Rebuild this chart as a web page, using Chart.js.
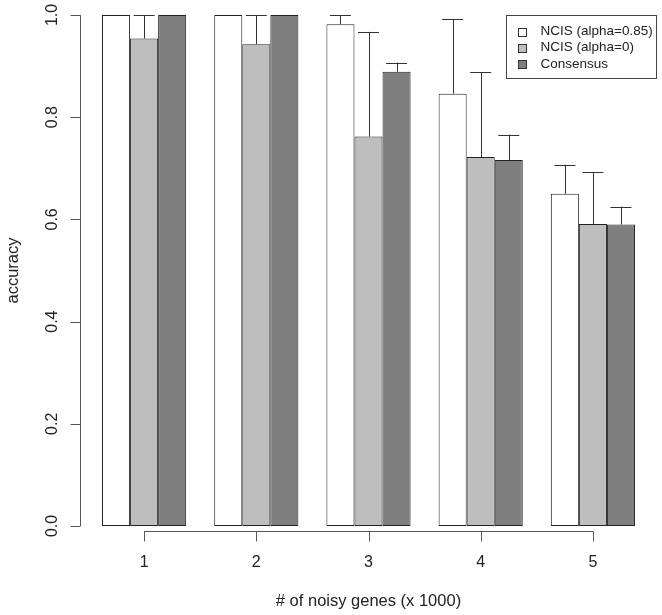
<!DOCTYPE html>
<html>
<head>
<meta charset="utf-8">
<script src="https://cdn.jsdelivr.net/npm/chart.js@4"></script>
<style>
  html, body { margin: 0; padding: 0; background: #fff; }
  #wrap { width: 662px; height: 615px; }
</style>
</head>
<body>
<div id="wrap"><canvas id="accChart" width="662" height="615"></canvas></div>
<script>
const groups = ["1", "2", "3", "4", "5"];
const seriesNames = ["NCIS (alpha=0.85)", "NCIS (alpha=0)", "Consensus"];
const ncis085 = [1.0, 1.0, 0.982, 0.846, 0.650];
const ncis0 = [0.954, 0.943, 0.762, 0.722, 0.591];
const consensus = [1.0, 1.0, 0.889, 0.716, 0.590];
// upper end of each error bar
const ncis085Upper = [1.0, 1.0, 1.0, 0.992, 0.707];
const ncis0Upper = [1.0, 1.0, 0.967, 0.888, 0.693];
const consensusUpper = [1.0, 1.0, 0.907, 0.766, 0.625];
const yTicks = [0, 0.2, 0.4, 0.6, 0.8, 1.0];
const yTickLabels = ["0.0", "0.2", "0.4", "0.6", "0.8", "1.0"];
const fills = ["#ffffff", "#bebebe", "#7f7f7f"];

const FONT = "'Liberation Sans', Arial, Helvetica, sans-serif";
const uppers = [ncis085Upper, ncis0Upper, consensusUpper];

const rAxes = {
    id: "rAxes",
    afterDatasetsDraw(chart) {
        const ctx = chart.ctx;
        const xs = chart.scales.x;
        const ys = chart.scales.y;
        const area = chart.chartArea;

        // error bars (upper only)
        ctx.save();
        ctx.strokeStyle = "#333";
        ctx.lineWidth = 1;
        chart.data.datasets.forEach((ds, i) => {
            const meta = chart.getDatasetMeta(i);
            meta.data.forEach((bar, j) => {
                const yTop = ys.getPixelForValue(uppers[i][j]);
                if (Math.abs(yTop - bar.y) < 0.5) return;
                ctx.beginPath();
                ctx.moveTo(Math.round(bar.x) + 0.5, bar.y);
                ctx.lineTo(Math.round(bar.x) + 0.5, yTop);
                ctx.moveTo(bar.x - 10.5, Math.round(yTop) + 0.5);
                ctx.lineTo(bar.x + 10.5, Math.round(yTop) + 0.5);
                ctx.stroke();
            });
        });

        // y axis
        const axX = area.left - 7.5;
        ctx.strokeStyle = "#555";
        ctx.beginPath();
        ctx.moveTo(axX, ys.getPixelForValue(yTicks[0]));
        ctx.lineTo(axX, ys.getPixelForValue(yTicks[yTicks.length - 1]));
        yTicks.forEach(v => {
            const p = Math.round(ys.getPixelForValue(v)) + 0.5;
            ctx.moveTo(axX, p);
            ctx.lineTo(axX - 10, p);
        });
        ctx.stroke();

        ctx.fillStyle = "#222";
        ctx.font = "16px " + FONT;
        ctx.textAlign = "center";
        ctx.textBaseline = "middle";
        yTicks.forEach((v, k) => {
            ctx.save();
            ctx.translate(axX - 28, ys.getPixelForValue(v));
            ctx.rotate(-Math.PI / 2);
            ctx.fillText(yTickLabels[k], 0, 0);
            ctx.restore();
        });

        // x axis
        const axY = Math.round(area.bottom + 5) + 0.5;
        const first = xs.getPixelForValue(0);
        const last = xs.getPixelForValue(groups.length - 1);
        ctx.beginPath();
        ctx.moveTo(first, axY);
        ctx.lineTo(last, axY);
        groups.forEach((g, k) => {
            const p = Math.round(xs.getPixelForValue(k)) + 0.5;
            ctx.moveTo(p, axY);
            ctx.lineTo(p, axY + 10);
        });
        ctx.stroke();
        groups.forEach((g, k) => {
            ctx.fillText(g, xs.getPixelForValue(k), axY + 31);
        });

        // axis titles
        ctx.font = "16.5px " + FONT;
        ctx.fillText("# of noisy genes (x 1000)", (first + last) / 2, 601);
        ctx.save();
        ctx.translate(13, (ys.getPixelForValue(0) + ys.getPixelForValue(1)) / 2);
        ctx.rotate(-Math.PI / 2);
        ctx.fillText("accuracy", 0, 0);
        ctx.restore();

        // legend
        const lx = 506.5, ly = 15.5, lw = 150, lh = 63;
        ctx.fillStyle = "#fff";
        ctx.fillRect(lx, ly, lw, lh);
        ctx.strokeStyle = "#444";
        ctx.strokeRect(lx, ly, lw, lh);
        ctx.font = "13.5px " + FONT;
        ctx.textAlign = "left";
        chart.data.datasets.forEach((ds, i) => {
            const cy = 31.5 + i * 16.2;
            ctx.fillStyle = ds.backgroundColor;
            ctx.fillRect(518.5, Math.round(cy - 4) + 0.5, 8, 8);
            ctx.strokeStyle = "#333";
            ctx.strokeRect(518.5, Math.round(cy - 4) + 0.5, 8, 8);
            ctx.fillStyle = "#222";
            ctx.fillText(ds.label, 540.5, cy);
        });
        ctx.restore();
    }
};

new Chart(document.getElementById("accChart"), {
    type: "bar",
    data: {
        labels: groups,
        datasets: [ncis085, ncis0, consensus].map((vals, i) => ({
            label: seriesNames[i],
            data: vals,
            backgroundColor: fills[i],
            borderColor: "#222",
            borderWidth: 1,
            borderSkipped: false,
            categoryPercentage: 0.75,
            barPercentage: 1.0
        }))
    },
    options: {
        responsive: false,
        animation: false,
        layout: { padding: { left: 88, right: 13, top: 15, bottom: 89 } },
        plugins: { legend: { display: false }, tooltip: { enabled: false } },
        scales: {
            x: { display: false, offset: true },
            y: { display: false, min: 0, max: 1 }
        }
    },
    plugins: [rAxes]
});
</script>
</body>
</html>
